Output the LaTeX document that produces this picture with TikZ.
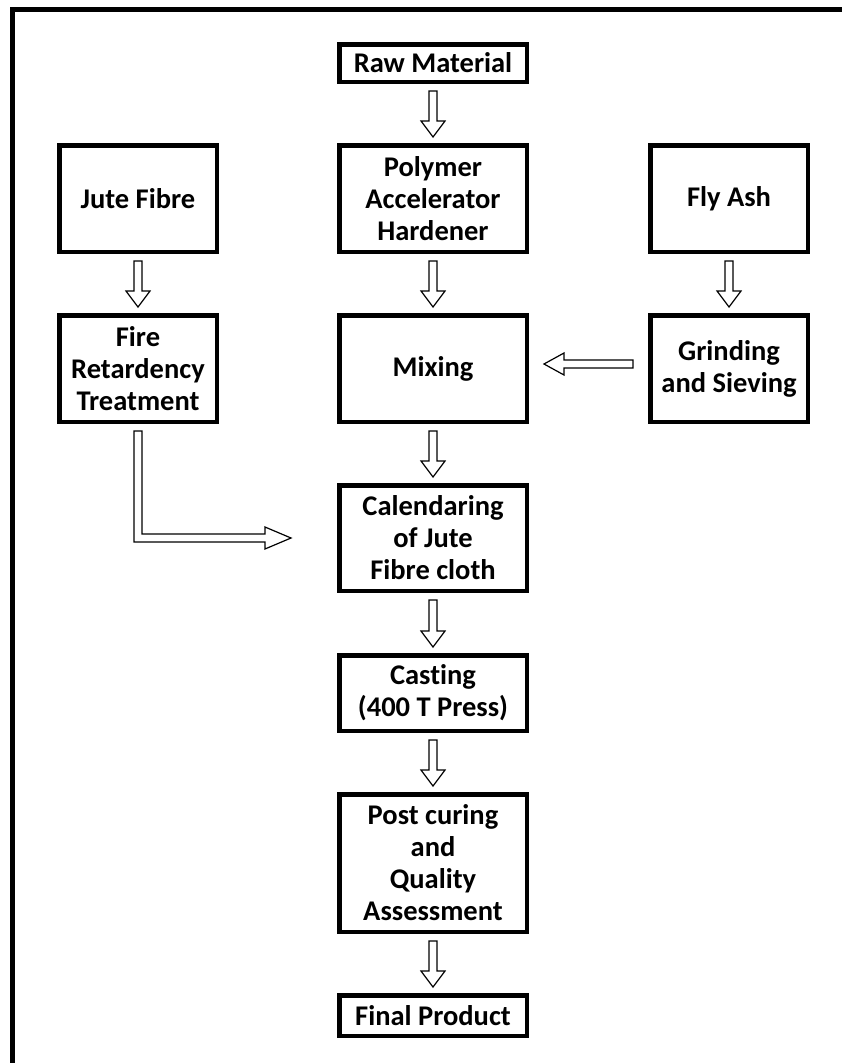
\documentclass[tikz,border=0pt]{standalone}
\usepackage{fontspec}
\setmainfont[RawFeature=-liga]{Carlito}
\usetikzlibrary{calc}
\tikzset{
  box/.style={draw=black, line width=4.5pt, fill=white, align=center, inner sep=0pt,
    font=\bfseries\fontsize{28.5}{32}\selectfont},
  blk/.style={draw=black, line width=1.2pt, fill=white, line join=miter},
  frame/.style={draw=black, line width=5pt},
}
\newcommand{\vflow}[2]{%
  \draw[blk] let \p1=(#1.south), \p2=(#2.north) in
    (\x1-4pt,\y1-7pt) -- (\x1+4pt,\y1-7pt) -- (\x2+4pt,\y2+22pt) -- (\x2+12pt,\y2+22pt)
    -- (\x2,\y2+6pt) -- (\x2-12pt,\y2+22pt) -- (\x2-4pt,\y2+22pt) -- cycle;}
\begin{document}
\begin{tikzpicture}[x=1pt,y=-1pt]
\useasboundingbox (0,0) rectangle (842,1063);
% outer frame
\draw[frame] (10,9.5) -- (842,9.5);
\draw[frame] (12.5,7) -- (12.5,1063);
% boxes
\node[box, minimum width=187.5pt, minimum height=37.5pt] (raw) at (433,63) {Raw Material};
\node[box, minimum width=157.5pt, minimum height=106.5pt] (jute) at (138,198.5) {Jute Fibre};
\node[box, minimum width=187.5pt, minimum height=106.5pt] (poly) at (433,198.5) {Polymer\\Accelerator\\Hardener};
\node[box, minimum width=157.5pt, minimum height=106.5pt] (fly) at (729,198.5) {Fly Ash};
\node[box, minimum width=157.5pt, minimum height=106.5pt] (fire) at (138,368.5) {Fire\\Retardency\\Treatment};
\node[box, minimum width=187.5pt, minimum height=106.5pt] (mix) at (433,368.5) {Mixing};
\node[box, minimum width=157.5pt, minimum height=106.5pt] (grind) at (729,368.5) {Grinding\\and Sieving};
\node[box, minimum width=187.5pt, minimum height=105.5pt] (cal) at (433,538) {Calendaring\\of Jute\\Fibre cloth};
\node[box, minimum width=187.5pt, minimum height=75.5pt] (cast) at (433,693) {Casting\\(400 T Press)};
\node[box, minimum width=187.5pt, minimum height=137.5pt] (post) at (433,863) {Post curing\\and\\Quality\\Assessment};
\node[box, minimum width=187.5pt, minimum height=40.5pt] (final) at (433,1015.5) {Final Product};
% vertical arrows
\vflow{raw}{poly}
\vflow{jute}{fire}
\vflow{poly}{mix}
\vflow{fly}{grind}
\vflow{mix}{cal}
\vflow{cal}{cast}
\vflow{cast}{post}
\vflow{post}{final}
% horizontal arrow grinding -> mixing
\draw[blk] let \p1=(grind.west), \p2=(mix.east) in
  (\x1-15pt,\y1+8.5pt) -- (\x1-15pt,\y1+0.5pt) -- (\x2+35pt,\y1+0.5pt) -- (\x2+35pt,\y1-6.5pt)
  -- (\x2+15pt,\y1+4.5pt) -- (\x2+35pt,\y1+15.5pt) -- (\x2+35pt,\y1+8.5pt) -- cycle;
% L-shaped arrow fire -> calendaring
\draw[blk] let \p1=(fire.south), \p2=(cal.west) in
  (\x1-4pt,\y1-7pt) -- (\x1+4pt,\y1-7pt) -- (\x1+4pt,\y2+4pt) -- (\x2-72pt,\y2+4pt)
  -- (\x2-72pt,\y2+11pt) -- (\x2-46pt,\y2) -- (\x2-72pt,\y2-11pt) -- (\x2-72pt,\y2-4pt)
  -- (\x1-4pt,\y2-4pt) -- cycle;
\end{tikzpicture}
\end{document}
